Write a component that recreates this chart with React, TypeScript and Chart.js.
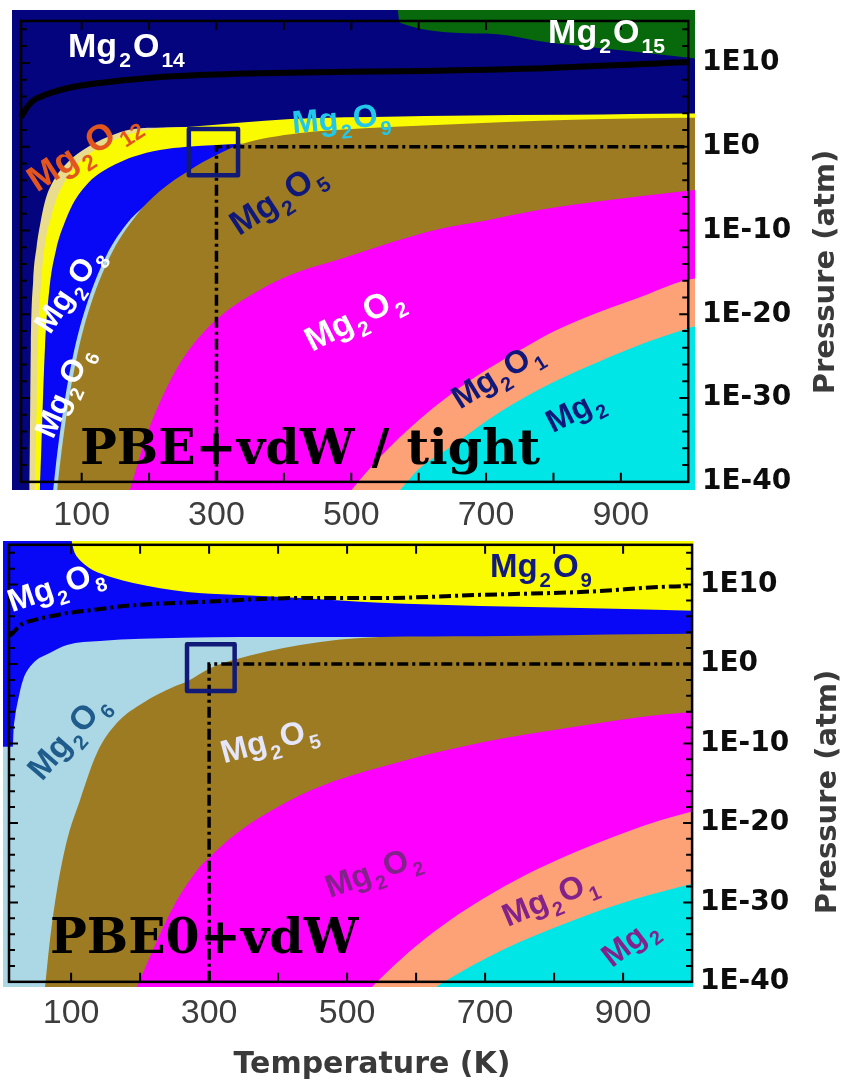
import { useEffect, useRef } from "react";
import { Chart, registerables } from "chart.js";

Chart.register(...registerables);

// ---------- shared axis settings (temperature in K, pressure as log10 of atm) ----------
const X_TICK_LABELS = [100, 300, 500, 700, 900];
const Y_TICK_LABELS = [-40, -30, -20, -10, 0, 10];
const X_FRAME_TICKS = [100, 200, 300, 400, 500, 600, 700, 800, 900];
const Y_FRAME_TICKS = [-38, -36, -34, -32, -30, -28, -26, -24, -22, -20, -18, -16, -14, -12, -10, -8, -6, -4, -2, 0, 2, 4, 6, 8, 10, 12, 14];
const FRAME_T = [10, 1000];
const FRAME_LOGP = [-40, 15];
const REF_T = 300;
const REF_LOGP = 0;

const COLORS = {
  o15: "#07690c",
  o14: "#04047e",
  o12: "#e9dc8c",
  o9: "#fbfb00",
  o8: "#0808f6",
  o6: "#acd8e5",
  o5: "#9c7b22",
  o2: "#fe00fe",
  o1: "#fda176",
  mg2: "#00e6e6",
};

// ---------- PBE+vdW / tight : upper edge of every phase region ----------
const TOP_O15_T = [-10, 1020];
const TOP_O15_P = [18, 18];
const TOP_O14_T = [-10, 566, 572, 700, 795, 900, 1002, 1020];
const TOP_O14_P = [18, 18, 14.8, 13.5, 12.4, 11.5, 10.6, 10.4];
const TOP_O12_T = [21, 22.5, 24.5, 28, 33, 39, 46, 60, 80, 102, 140, 176, 220, 256];
const TOP_O12_P = [-44, -41, -24, -16, -12, -9, -6.4, -3.8, -1.8, -0.4, 1.2, 2.1, 2.3, 2.35];
const TOP_O9_T = [29, 30.7, 35, 40, 47, 55, 62, 80, 100, 127, 176, 216, 256, 410, 572, 646, 830, 1002, 1020];
const TOP_O9_P = [-44, -41, -24, -16, -11, -8.3, -6.4, -3.5, -1.6, -0.04, 1.6, 2.2, 2.35, 3.3, 3.6, 3.7, 3.8, 3.95, 3.95];
const TOP_O8_T = [36, 38, 45.5, 52, 62, 75, 90, 110, 130, 150, 176.5, 216, 256, 300, 339];
const TOP_O8_P = [-44, -41, -24, -17, -12.3, -9, -6.4, -4.3, -3.0, -2.1, -1.2, -0.4, 0.0, 0.2, 0.35];
const TOP_O6_T = [52, 57.6, 64, 74, 87, 104, 136, 170, 200];
const TOP_O6_P = [-45, -41, -36.4, -30.7, -25, -19.7, -13.1, -8.9, -6.6];
const TOP_O5_T = [60, 63.6, 70, 80, 93, 110, 142, 180, 216, 260, 300, 339, 421, 520, 626, 730, 830, 920, 1002, 1020];
const TOP_O5_P = [-44, -41, -36.4, -30.7, -25, -19.7, -13.1, -8.3, -5.3, -2.8, -1.0, 0.35, 1.6, 2.2, 2.6, 2.95, 3.2, 3.35, 3.45, 3.45];
const TOP_O2_T = [165, 174.6, 190, 201, 226.5, 256, 299, 364, 420, 492, 560, 626, 700, 778, 880, 983, 1020];
const TOP_O2_P = [-42.5, -40.2, -36, -33.4, -28.7, -24.6, -20.7, -17.1, -15, -13.2, -11.4, -9.9, -8.8, -7.55, -6.4, -5.4, -5.1];
const TOP_O1_T = [480, 500, 542, 602, 676, 765, 804, 869, 940, 989, 1020];
const TOP_O1_P = [-43, -41, -37.1, -32.5, -27.9, -23.6, -21.9, -19.7, -17.6, -16.1, -15.6];
const TOP_MG2_T = [550, 572, 600, 646, 720, 795, 869, 943, 1002, 1020];
const TOP_MG2_P = [-42.7, -41, -38.5, -35.9, -31.7, -28.3, -25.6, -23.2, -21.6, -21.2];
const TOP_GAS_T = [10, 14, 20, 28, 40, 53, 80, 127, 200, 275, 424, 572, 795, 1002];
const TOP_GAS_P = [3.5, 4.1, 4.8, 5.5, 6.0, 6.4, 7.0, 7.6, 8.2, 8.55, 8.85, 9.0, 9.4, 10.1];

// ---------- PBE0+vdW ----------
const BOT_O9_T = [-10, 1020];
const BOT_O9_P = [17, 17];
const BOT_O8_T = [-10, 98, 101, 104, 108.6, 120, 131.7, 160, 190, 268, 335, 432, 548, 693, 838, 1002, 1020];
const BOT_O8_P = [17, 17, 15.4, 14.3, 13.5, 12.5, 11.8, 10.9, 10.2, 9.06, 8.7, 8.3, 7.7, 7.3, 7.05, 6.7, 6.65];
const BOT_O6_T = [-10, 15.5, 16.5, 18.7, 23, 30.3, 44.8, 69, 94, 142, 262, 432, 548];
const BOT_O6_P = [-10.4, -10.4, -8.5, -6.7, -4.6, -2.0, 0.1, 1.4, 2.4, 2.9, 3.3, 3.4, 3.4];
const BOT_O5_T = [58, 62.2, 69.4, 79.6, 94, 113, 137.5, 166.5, 204, 248, 268, 300, 335, 432, 548, 693, 838, 997, 1020];
const BOT_O5_P = [-44.1, -40.65, -34.7, -28.4, -22.2, -17.1, -11.2, -7.4, -4.9, -2.9, -2.2, -0.6, 0.5, 2.4, 3.4, 3.5, 3.65, 3.8, 3.8];
const BOT_O2_T = [185, 195.5, 214, 248, 287, 300, 330, 374, 450, 577, 700, 830, 954, 1020];
const BOT_O2_P = [-42.8, -40.65, -36.9, -30.6, -25.5, -24.4, -22, -19.3, -15.8, -12.3, -9.8, -7.9, -6.4, -5.9];
const BOT_O1_T = [500, 536, 560, 600, 650, 700, 760, 830, 900, 953, 1020];
const BOT_O1_P = [-43.7, -40.65, -38.6, -35.5, -32.2, -29.4, -26.5, -23.7, -21.3, -19.7, -18.1];
const BOT_MG2_T = [600, 629, 660, 700, 750, 800, 860, 920, 980, 1020];
const BOT_MG2_P = [-42.5, -40.65, -39.0, -37.1, -35.0, -33.2, -31.2, -29.5, -28.1, -27.2];
const BOT_GAS_T = [10, 15.8, 25, 44.8, 70, 94, 140, 190, 287, 432, 548, 693, 838, 997, 1001];
const BOT_GAS_P = [3.5, 3.9, 4.8, 5.5, 6.0, 6.4, 6.9, 7.4, 7.8, 8.3, 8.3, 8.7, 9.06, 9.8, 9.8];

// ---------- phase names (formula parts alternate: normal, subscript) ----------
type PhaseLabel = { parts: string[]; t: number; p: number; angle: number; color: string; size: number };

const TOP_LABELS: PhaseLabel[] = [
  { parts: ["Mg", "2", "O", "14"], t: 79.7, p: 10.7, angle: 0, color: "#ffffff", size: 34 },
  { parts: ["Mg", "2", "O", "15"], t: 792, p: 12.4, angle: 0, color: "#ffffff", size: 34 },
  { parts: ["Mg", "2", "O", "12"], t: 33.7, p: -5.5, angle: -33, color: "#e2561e", size: 36 },
  { parts: ["Mg", "2", "O", "9"], t: 413.5, p: 1.6, angle: -5, color: "#22c8ea", size: 32 },
  { parts: ["Mg", "2", "O", "5"], t: 333.4, p: -10.7, angle: -33, color: "#10187a", size: 34 },
  { parts: ["Mg", "2", "O", "8"], t: 53, p: -22.5, angle: -56, color: "#ffffff", size: 31 },
  { parts: ["Mg", "2", "O", "6"], t: 57.4, p: -35, angle: -66, color: "#ffffff", size: 31 },
  { parts: ["Mg", "2", "O", "2"], t: 441.7, p: -24.5, angle: -27, color: "#ffffff", size: 34 },
  { parts: ["Mg", "2", "O", "1"], t: 661.3, p: -31.4, angle: -32, color: "#10187a", size: 32 },
  { parts: ["Mg", "2"], t: 799, p: -34.2, angle: -27, color: "#10187a", size: 32 },
];

const BOT_LABELS: PhaseLabel[] = [
  { parts: ["Mg", "2", "O", "8"], t: 14.3, p: 6.5, angle: -19, color: "#ffffff", size: 32 },
  { parts: ["Mg", "2", "O", "9"], t: 707, p: 10.95, angle: 0, color: "#101a80", size: 33 },
  { parts: ["Mg", "2", "O", "6"], t: 57.8, p: -14.85, angle: -49, color: "#1f5c8c", size: 33 },
  { parts: ["Mg", "2", "O", "5"], t: 321.6, p: -12.5, angle: -15, color: "#e6e6fa", size: 32 },
  { parts: ["Mg", "2", "O", "2"], t: 475.2, p: -29.45, angle: -20, color: "#82228a", size: 32 },
  { parts: ["Mg", "2", "O", "1"], t: 733, p: -33.1, angle: -23, color: "#82228a", size: 32 },
  { parts: ["Mg", "2"], t: 884, p: -38.3, angle: -38, color: "#82228a", size: 32 },
];

type Region = { name: string; t: number[]; p: number[]; color: string };

type PanelSpec = {
  top: number;
  width: number;
  height: number;
  padLeft: number;
  padTop: number;
  rightW: number;
  bottomH: number;
  xMin: number;
  xMax: number;
  yMin: number;
  yMax: number;
  xTickPad: number;
  regions: Region[];
  gas: { t: number[]; p: number[]; width: number; dash: number[] };
  box: { t: number[]; p: number[] };
  labels: PhaseLabel[];
  tag: { text: string; x: number; y: number; size: number };
  yTitle: { x: number; y: number };
  xTitle?: { x: number; y: number };
};

const TOP_PANEL: PanelSpec = {
  top: 0,
  width: 846,
  height: 535,
  padLeft: 12,
  padTop: 10,
  rightW: 151,
  bottomH: 45,
  xMin: -3.4,
  xMax: 1010,
  yMin: -40.97,
  yMax: 16.31,
  xTickPad: 5,
  regions: [
    { name: "Mg2O15", t: TOP_O15_T, p: TOP_O15_P, color: COLORS.o15 },
    { name: "Mg2O14", t: TOP_O14_T, p: TOP_O14_P, color: COLORS.o14 },
    { name: "Mg2O12", t: TOP_O12_T, p: TOP_O12_P, color: COLORS.o12 },
    { name: "Mg2O9", t: TOP_O9_T, p: TOP_O9_P, color: COLORS.o9 },
    { name: "Mg2O8", t: TOP_O8_T, p: TOP_O8_P, color: COLORS.o8 },
    { name: "Mg2O6", t: TOP_O6_T, p: TOP_O6_P, color: COLORS.o6 },
    { name: "Mg2O5", t: TOP_O5_T, p: TOP_O5_P, color: COLORS.o5 },
    { name: "Mg2O2", t: TOP_O2_T, p: TOP_O2_P, color: COLORS.o2 },
    { name: "Mg2O1", t: TOP_O1_T, p: TOP_O1_P, color: COLORS.o1 },
    { name: "Mg2", t: TOP_MG2_T, p: TOP_MG2_P, color: COLORS.mg2 },
  ],
  gas: { t: TOP_GAS_T, p: TOP_GAS_P, width: 6, dash: [] },
  box: { t: [259, 332], p: [-3.4, 2.1] },
  labels: TOP_LABELS,
  tag: { text: "PBE+vdW / tight", x: 80, y: 464, size: 49 },
  yTitle: { x: 826, y: 272 },
};

const BOTTOM_PANEL: PanelSpec = {
  top: 535,
  width: 846,
  height: 551,
  padLeft: 3,
  padTop: 6,
  rightW: 153,
  bottomH: 99,
  xMin: 1.3,
  xMax: 1001.3,
  yMin: -40.65,
  yMax: 15.48,
  xTickPad: 6,
  regions: [
    { name: "Mg2O9", t: BOT_O9_T, p: BOT_O9_P, color: COLORS.o9 },
    { name: "Mg2O8", t: BOT_O8_T, p: BOT_O8_P, color: COLORS.o8 },
    { name: "Mg2O6", t: BOT_O6_T, p: BOT_O6_P, color: COLORS.o6 },
    { name: "Mg2O5", t: BOT_O5_T, p: BOT_O5_P, color: COLORS.o5 },
    { name: "Mg2O2", t: BOT_O2_T, p: BOT_O2_P, color: COLORS.o2 },
    { name: "Mg2O1", t: BOT_O1_T, p: BOT_O1_P, color: COLORS.o1 },
    { name: "Mg2", t: BOT_MG2_T, p: BOT_MG2_P, color: COLORS.mg2 },
  ],
  gas: { t: BOT_GAS_T, p: BOT_GAS_P, width: 4, dash: [12, 4, 3, 4] },
  box: { t: [268, 337], p: [-3.4, 2.5] },
  labels: BOT_LABELS,
  tag: { text: "PBE0+vdW", x: 50, y: 418, size: 49 },
  yTitle: { x: 828, y: 257 },
  xTitle: { x: 372, y: 530 },
};

const toPoints = (t: number[], p: number[]) => t.map((x, i) => ({ x, y: p[i] }));

const SANS = "'Liberation Sans', Arial, sans-serif";

function drawFormula(ctx: CanvasRenderingContext2D, x: number, y: number, lab: PhaseLabel) {
  ctx.save();
  ctx.translate(x, y);
  ctx.rotate((lab.angle * Math.PI) / 180);
  ctx.fillStyle = lab.color;
  ctx.textBaseline = "alphabetic";
  ctx.textAlign = "left";
  let cx = 0;
  lab.parts.forEach((txt, i) => {
    const sub = i % 2 === 1;
    const s = sub ? lab.size * 0.62 : lab.size;
    ctx.font = `bold ${s}px ${SANS}`;
    ctx.fillText(txt, cx, sub ? lab.size * 0.3 : 0);
    cx += ctx.measureText(txt).width + lab.size * 0.06;
  });
  ctx.restore();
}

function overlayPlugin(spec: PanelSpec) {
  return {
    id: "phaseOverlay",
    afterDatasetsDraw(chart: any) {
      const ctx: CanvasRenderingContext2D = chart.ctx;
      const xs = chart.scales.x;
      const ys = chart.scales.y;
      const px = (t: number) => xs.getPixelForValue(t);
      const py = (p: number) => ys.getPixelForValue(p);

      // reference square around 300 K / 1 atm
      ctx.save();
      ctx.strokeStyle = "#121a78";
      ctx.lineWidth = 4.5;
      ctx.lineJoin = "round";
      const bx0 = px(spec.box.t[0]);
      const bx1 = px(spec.box.t[1]);
      const by0 = py(spec.box.p[1]);
      const by1 = py(spec.box.p[0]);
      ctx.strokeRect(bx0, by0, bx1 - bx0, by1 - by0);
      ctx.restore();

      // frame with inward ticks
      const x0 = px(FRAME_T[0]);
      const x1 = px(FRAME_T[1]);
      const y0 = py(FRAME_LOGP[1]);
      const y1 = py(FRAME_LOGP[0]);
      ctx.save();
      ctx.strokeStyle = "#000";
      ctx.lineWidth = 2.5;
      ctx.strokeRect(x0, y0, x1 - x0, y1 - y0);
      ctx.lineWidth = 2;
      ctx.beginPath();
      X_FRAME_TICKS.forEach((t) => {
        const x = px(t);
        ctx.moveTo(x, y1);
        ctx.lineTo(x, y1 - 9);
        ctx.moveTo(x, y0);
        ctx.lineTo(x, y0 + 9);
      });
      Y_FRAME_TICKS.forEach((p) => {
        const y = py(p);
        const len = p % 10 === 0 ? 9 : 6;
        ctx.moveTo(x0, y);
        ctx.lineTo(x0 + len, y);
        ctx.moveTo(x1, y);
        ctx.lineTo(x1 - len, y);
      });
      ctx.stroke();
      ctx.restore();

      // phase names
      spec.labels.forEach((lab) => drawFormula(ctx, px(lab.t), py(lab.p), lab));

      // functional tag
      ctx.save();
      ctx.fillStyle = "#000";
      ctx.font = `bold ${spec.tag.size}px 'DejaVu Serif', 'Liberation Serif', serif`;
      ctx.textBaseline = "alphabetic";
      ctx.textAlign = "left";
      ctx.fillText(spec.tag.text, spec.tag.x, spec.tag.y);
      ctx.restore();

      // axis titles
      ctx.save();
      ctx.fillStyle = "#3a3a3a";
      ctx.font = "bold 29px 'DejaVu Sans', sans-serif";
      ctx.textAlign = "center";
      ctx.textBaseline = "middle";
      ctx.translate(spec.yTitle.x, spec.yTitle.y);
      ctx.rotate(-Math.PI / 2);
      ctx.fillText("Pressure (atm)", 0, 0);
      ctx.restore();
      if (spec.xTitle) {
        ctx.save();
        ctx.fillStyle = "#3a3a3a";
        ctx.font = "bold 30px 'DejaVu Sans', sans-serif";
        ctx.textAlign = "center";
        ctx.textBaseline = "middle";
        ctx.fillText("Temperature (K)", spec.xTitle.x, spec.xTitle.y);
        ctx.restore();
      }
    },
  };
}

function buildConfig(spec: PanelSpec): any {
  const datasets: any[] = spec.regions.map((r, i) => ({
    label: r.name,
    data: toPoints(r.t, r.p),
    borderWidth: 0,
    borderColor: r.color,
    backgroundColor: r.color,
    pointRadius: 0,
    fill: "start",
    cubicInterpolationMode: "monotone",
    order: 100 - i,
  }));
  datasets.push({
    label: "O2 gas",
    data: toPoints(spec.gas.t, spec.gas.p),
    borderWidth: spec.gas.width,
    borderColor: "#000",
    borderDash: spec.gas.dash,
    borderCapStyle: "butt",
    pointRadius: 0,
    fill: false,
    cubicInterpolationMode: "monotone",
    order: 1,
  });
  datasets.push({
    label: "300 K, 1 atm",
    data: [
      { x: REF_T, y: FRAME_LOGP[0] },
      { x: REF_T, y: REF_LOGP },
      { x: FRAME_T[1], y: REF_LOGP },
    ],
    borderWidth: 3.5,
    borderColor: "#000",
    borderDash: [11, 4, 3, 4],
    borderCapStyle: "butt",
    pointRadius: 0,
    fill: false,
    tension: 0,
    order: 0,
  });

  return {
    type: "line",
    data: { datasets },
    plugins: [overlayPlugin(spec)],
    options: {
      animation: false,
      responsive: false,
      maintainAspectRatio: false,
      events: [],
      layout: { padding: { left: spec.padLeft, top: spec.padTop, right: 0, bottom: 0 } },
      plugins: { legend: { display: false }, tooltip: { enabled: false } },
      scales: {
        x: {
          type: "linear",
          position: "bottom",
          min: spec.xMin,
          max: spec.xMax,
          grid: { display: false, drawTicks: false },
          border: { display: false },
          ticks: {
            autoSkip: false,
            maxRotation: 0,
            padding: spec.xTickPad,
            color: "#3d3d3d",
            font: { family: SANS, size: 34 },
            callback: (v: number) => String(v),
          },
          afterBuildTicks: (s: any) => {
            s.ticks = X_TICK_LABELS.map((v) => ({ value: v }));
          },
          afterFit: (s: any) => {
            s.height = spec.bottomH;
            s.paddingLeft = 0;
            s.paddingRight = 0;
            s.paddingTop = 0;
            s.paddingBottom = 0;
          },
        },
        y: {
          type: "linear",
          position: "right",
          min: spec.yMin,
          max: spec.yMax,
          grid: { display: false, drawTicks: false },
          border: { display: false },
          ticks: {
            autoSkip: false,
            padding: 7,
            color: "#0d0d0d",
            font: { family: "'DejaVu Sans', sans-serif", size: 28, weight: "bold" },
            callback: (v: number) => "1E" + v,
          },
          afterBuildTicks: (s: any) => {
            s.ticks = Y_TICK_LABELS.map((v) => ({ value: v }));
          },
          afterFit: (s: any) => {
            s.width = spec.rightW;
            s.paddingLeft = 0;
            s.paddingRight = 0;
            s.paddingTop = 0;
            s.paddingBottom = 0;
          },
        },
      },
    },
  };
}

function PhasePanel({ spec }: { spec: PanelSpec }) {
  const ref = useRef<HTMLCanvasElement>(null);
  useEffect(() => {
    if (!ref.current) return;
    const chart = new Chart(ref.current, buildConfig(spec));
    return () => chart.destroy();
  }, [spec]);
  return (
    <canvas
      ref={ref}
      width={spec.width}
      height={spec.height}
      style={{ position: "absolute", left: 0, top: spec.top, width: spec.width, height: spec.height }}
    />
  );
}

export default function App() {
  return (
    <div style={{ position: "absolute", left: 0, top: 0, width: 846, height: 1086, background: "#fff" }}>
      <PhasePanel spec={TOP_PANEL} />
      <PhasePanel spec={BOTTOM_PANEL} />
    </div>
  );
}
